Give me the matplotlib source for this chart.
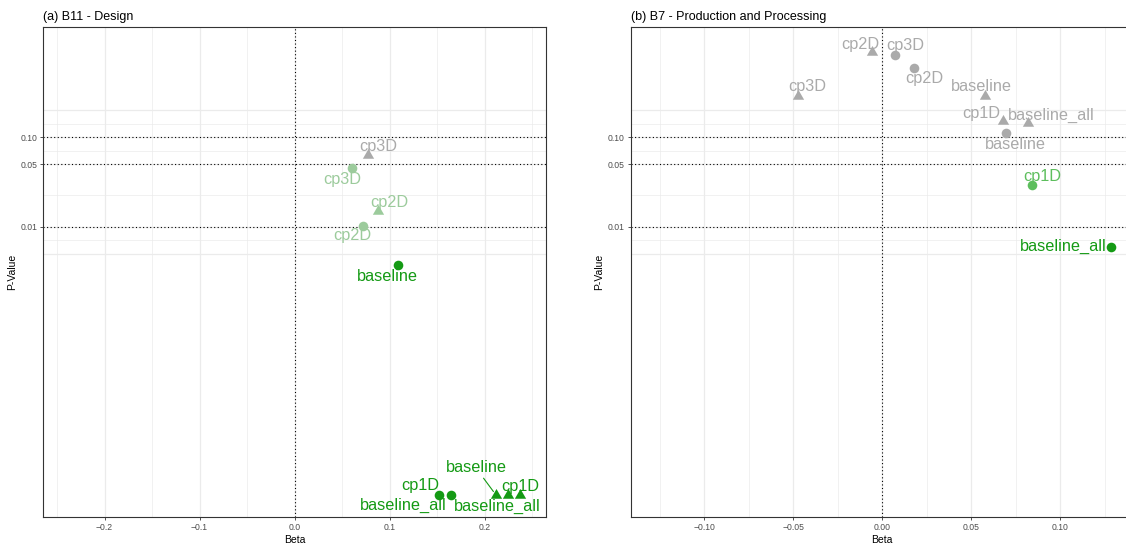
import numpy as np
import matplotlib
matplotlib.use("Agg")
import matplotlib.pyplot as plt
from matplotlib.path import Path
from matplotlib.ticker import FixedLocator, FixedFormatter, NullLocator

plt.rcParams["font.family"] = ["Liberation Sans", "DejaVu Sans"]
plt.rcParams["axes.unicode_minus"] = True

# ---------------------------------------------------------------- data
# (a) B11 - Design
a_model = ["cp3D", "cp3D", "cp2D", "cp2D", "baseline",
           "cp1D", "baseline_all", "baseline", "baseline_all", "cp1D"]
a_shape = ["tri", "dot", "tri", "dot", "dot",
           "dot", "dot", "tri", "tri", "tri"]
a_beta = [0.077, 0.061, 0.088, 0.072, 0.109,
          0.152, 0.165, 0.212, 0.225, 0.237]
a_pval = [0.063, 0.045, 0.015, 0.0103, 0.0037,
          1.0e-5, 1.0e-5, 1.0e-5, 1.0e-5, 1.0e-5]
a_group = ["ns", "weak", "weak", "weak", "strong",
           "strong", "strong", "strong", "strong", "strong"]

# (b) B7 - Production and Processing
b_model = ["cp2D", "cp3D", "cp2D", "cp3D", "baseline",
           "cp1D", "baseline_all", "baseline", "cp1D", "baseline_all"]
b_shape = ["tri", "dot", "dot", "tri", "tri",
           "tri", "tri", "dot", "dot", "dot"]
b_beta = [-0.006, 0.007, 0.018, -0.0475, 0.058,
          0.068, 0.082, 0.0695, 0.084, 0.1285]
b_pval = [0.907, 0.826, 0.601, 0.292, 0.292,
          0.151, 0.144, 0.112, 0.029, 0.0060]
b_group = ["ns", "ns", "ns", "ns", "ns",
           "ns", "ns", "ns", "mid", "strong"]

p_ticks = [0.10, 0.05, 0.01]
p_tick_labels = ["0.10", "0.05", "0.01"]
p_grid = [0.2, 0.1, 0.05, 0.01, 0.005]

a_xticks = [-0.2, -0.1, 0.0, 0.1, 0.2]
a_xtick_labels = ["\u22120.2", "\u22120.1", "0.0", "0.1", "0.2"]
b_xticks = [-0.10, -0.05, 0.0, 0.05, 0.10]
b_xtick_labels = ["\u22120.10", "\u22120.05", "0.00", "0.05", "0.10"]

# ---------------------------------------------------------------- style
colors = {"ns": "#AAAAAA", "weak": "#9CCB9C", "mid": "#5DBE5D",
          "strong": "#149A14"}

# label offsets (pixels) from each point, and which labels get a leader line
a_offset = [(11, 9), (-10, -11), (11, 8), (-11, -10), (-11, -11),
            (-19, 9), (-48, -11), (-20, 27), (-11, -12), (1, 8)]
a_leader = [False] * 7 + [True] + [False] * 2
b_offset = [(-11, 7), (11, 10), (10, -11), (10, 9), (-4, 9),
            (-22, 8), (23, 8), (10, -12), (11, 9), (-48, 0)]
b_leader = [False] * 10

# triangle centred on its centroid
tri_marker = Path([(0, 1), (-0.866, -0.5), (0.866, -0.5), (0, 1)],
                  [Path.MOVETO, Path.LINETO, Path.LINETO, Path.CLOSEPOLY])
markers = {"tri": (tri_marker, 88), "dot": ("o", 48)}

P_TOP = 10 ** 0.234
P_BOTTOM = 10 ** -5.247
GRID = "#EBEBEB"
INK = "#333333"


def draw_panel(ax, title, model, shape, beta, pval, group, offset, leader,
               xlim, xticks, xtick_labels):
    ax.set_yscale("log")
    ax.set_xlim(-xlim, xlim)
    ax.set_ylim(P_BOTTOM, P_TOP)

    # grid: major at the breaks, minor half way between them
    step = xticks[1] - xticks[0]
    minor_x = np.arange(xticks[0] - step / 2, xlim, step)
    for v in xticks:
        ax.axvline(v, color=GRID, lw=0.9, zorder=0)
    for v in minor_x:
        if -xlim < v < xlim:
            ax.axvline(v, color=GRID, lw=0.5, zorder=0)
    for p in p_grid:
        ax.axhline(p, color=GRID, lw=0.9, zorder=0)
    for p0, p1 in zip(p_grid[:-1], p_grid[1:]):
        ax.axhline(np.sqrt(p0 * p1), color=GRID, lw=0.5, zorder=0)

    # significance thresholds and zero effect
    for p in p_ticks:
        ax.axhline(p, color="black", lw=0.8, ls=(0, (1, 2.2)), zorder=1)
    ax.axvline(0, color="black", lw=0.8, ls=(0, (1, 2.2)), zorder=1)

    for i in range(len(model)):
        col = colors[group[i]]
        mk, s = markers[shape[i]]
        ax.scatter(beta[i], pval[i], marker=mk, s=s, color=col,
                   linewidths=0, zorder=3)
        arrow = None
        if leader[i]:
            arrow = dict(arrowstyle="-", color=col, lw=0.8,
                         shrinkA=0, shrinkB=3)
        ax.annotate(model[i], (beta[i], pval[i]), xytext=offset[i],
                    textcoords="offset pixels", ha="center", va="center",
                    fontsize=11.7, color=col, zorder=4, arrowprops=arrow)

    ax.xaxis.set_major_locator(FixedLocator(xticks))
    ax.xaxis.set_major_formatter(FixedFormatter(xtick_labels))
    ax.yaxis.set_major_locator(FixedLocator(p_ticks))
    ax.yaxis.set_major_formatter(FixedFormatter(p_tick_labels))
    ax.yaxis.set_minor_locator(NullLocator())
    ax.xaxis.set_minor_locator(NullLocator())
    ax.tick_params(axis="both", which="major", length=2.5, width=0.6,
                   color=INK, labelsize=6.2, labelcolor="#4D4D4D", pad=2)
    for sp in ax.spines.values():
        sp.set_color(INK)
        sp.set_linewidth(0.8)

    ax.set_xlabel("Beta", fontsize=7.5, labelpad=2)
    ax.set_ylabel("P-Value", fontsize=7.5, labelpad=2.5)
    ax.set_title(title, loc="left", fontsize=9, pad=5)


W, H = 1126, 544
fig = plt.figure(figsize=(W / 100, H / 100), dpi=100)
fig.patch.set_facecolor("white")

ax_a = fig.add_axes([43.3 / W, 27 / H, 502.5 / W, 490 / H])
ax_b = fig.add_axes([631 / W, 27 / H, 502.5 / W, 490 / H])

draw_panel(ax_a, "(a) B11 - Design", a_model, a_shape, a_beta, a_pval,
           a_group, a_offset, a_leader, 0.2645, a_xticks, a_xtick_labels)
draw_panel(ax_b, "(b) B7 - Production and Processing", b_model, b_shape,
           b_beta, b_pval, b_group, b_offset, b_leader, 0.1412,
           b_xticks, b_xtick_labels)

fig.savefig("out.png", dpi=100)
